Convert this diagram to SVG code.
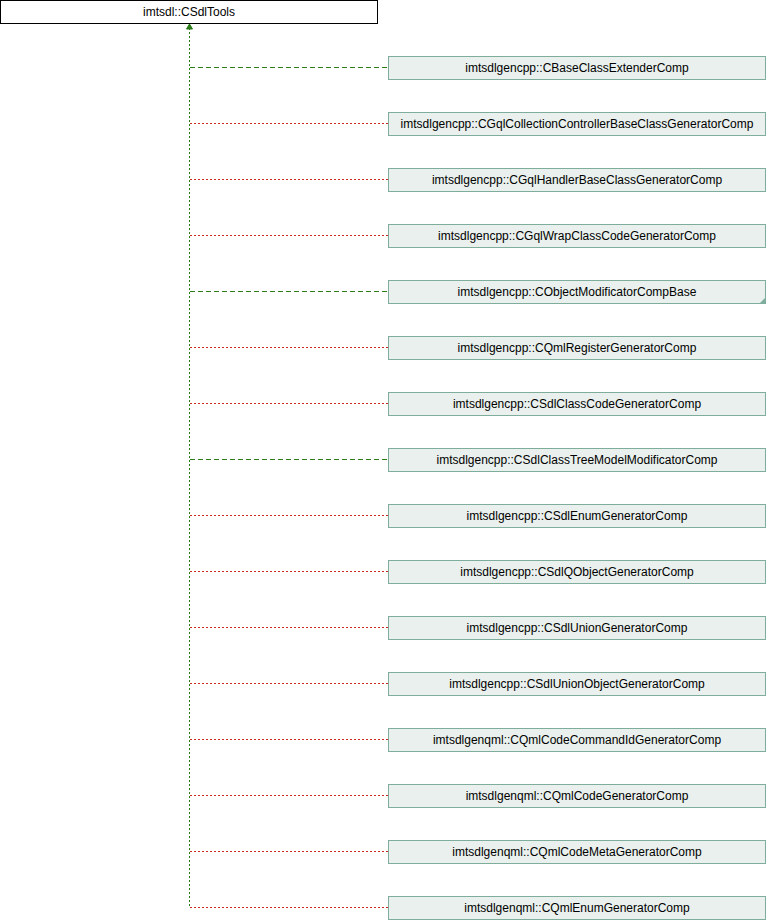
<svg xmlns="http://www.w3.org/2000/svg" width="766" height="920" viewBox="0 0 766 920">
<style>
text{font-family:"Liberation Sans",Arial,sans-serif;font-size:12px;fill:#000;text-anchor:middle}
.n rect{fill:#e9f0ed;stroke:#7fad9c;stroke-width:1}
.root rect{fill:#fff;stroke:#000;stroke-width:1}
</style>
<g id="connectors" fill="none" stroke-width="1" shape-rendering="crispEdges">
<path stroke="#2a7a18" stroke-dasharray="2,2" d="M189.5,28V908"/>
<path d="M186.5,29L189.5,24L192.5,29Z" fill="#2a7a18" stroke="#2a7a18" shape-rendering="auto"/>
<g stroke="#2a7a18" stroke-dasharray="5,3">
<path d="M190,67.5H388"/>
<path d="M190,291.5H388"/>
<path d="M190,459.5H388"/>
</g>
<g stroke="#cc2a1e" stroke-dasharray="2,2">
<path d="M190,123.5H388"/>
<path d="M190,179.5H388"/>
<path d="M190,235.5H388"/>
<path d="M190,347.5H388"/>
<path d="M190,403.5H388"/>
<path d="M190,515.5H388"/>
<path d="M190,571.5H388"/>
<path d="M190,627.5H388"/>
<path d="M190,683.5H388"/>
<path d="M190,739.5H388"/>
<path d="M190,795.5H388"/>
<path d="M190,851.5H388"/>
<path d="M189.5,907.5H388"/>
</g>
</g>
<g id="root" class="root"><rect x="0.5" y="0.5" width="377" height="23"/><text x="189" y="16">imtsdl::CSdlTools</text></g>
<g id="n0" class="n"><rect x="388.5" y="56.5" width="377" height="23"/><text x="577" y="72">imtsdlgencpp::CBaseClassExtenderComp</text></g>
<g id="n1" class="n"><rect x="388.5" y="112.5" width="377" height="23"/><text x="577" y="128">imtsdlgencpp::CGqlCollectionControllerBaseClassGeneratorComp</text></g>
<g id="n2" class="n"><rect x="388.5" y="168.5" width="377" height="23"/><text x="577" y="184">imtsdlgencpp::CGqlHandlerBaseClassGeneratorComp</text></g>
<g id="n3" class="n"><rect x="388.5" y="224.5" width="377" height="23"/><text x="577" y="240">imtsdlgencpp::CGqlWrapClassCodeGeneratorComp</text></g>
<g id="n4" class="n"><rect x="388.5" y="280.5" width="377" height="23"/><path d="M765.5,297.5L759.5,303.5H765.5Z" fill="#7fad9c"/><text x="577" y="296">imtsdlgencpp::CObjectModificatorCompBase</text></g>
<g id="n5" class="n"><rect x="388.5" y="336.5" width="377" height="23"/><text x="577" y="352">imtsdlgencpp::CQmlRegisterGeneratorComp</text></g>
<g id="n6" class="n"><rect x="388.5" y="392.5" width="377" height="23"/><text x="577" y="408">imtsdlgencpp::CSdlClassCodeGeneratorComp</text></g>
<g id="n7" class="n"><rect x="388.5" y="448.5" width="377" height="23"/><text x="577" y="464">imtsdlgencpp::CSdlClassTreeModelModificatorComp</text></g>
<g id="n8" class="n"><rect x="388.5" y="504.5" width="377" height="23"/><text x="577" y="520">imtsdlgencpp::CSdlEnumGeneratorComp</text></g>
<g id="n9" class="n"><rect x="388.5" y="560.5" width="377" height="23"/><text x="577" y="576">imtsdlgencpp::CSdlQObjectGeneratorComp</text></g>
<g id="n10" class="n"><rect x="388.5" y="616.5" width="377" height="23"/><text x="577" y="632">imtsdlgencpp::CSdlUnionGeneratorComp</text></g>
<g id="n11" class="n"><rect x="388.5" y="672.5" width="377" height="23"/><text x="577" y="688">imtsdlgencpp::CSdlUnionObjectGeneratorComp</text></g>
<g id="n12" class="n"><rect x="388.5" y="728.5" width="377" height="23"/><text x="577" y="744">imtsdlgenqml::CQmlCodeCommandIdGeneratorComp</text></g>
<g id="n13" class="n"><rect x="388.5" y="784.5" width="377" height="23"/><text x="577" y="800">imtsdlgenqml::CQmlCodeGeneratorComp</text></g>
<g id="n14" class="n"><rect x="388.5" y="840.5" width="377" height="23"/><text x="577" y="856">imtsdlgenqml::CQmlCodeMetaGeneratorComp</text></g>
<g id="n15" class="n"><rect x="388.5" y="896.5" width="377" height="23"/><text x="577" y="912">imtsdlgenqml::CQmlEnumGeneratorComp</text></g>
</svg>
